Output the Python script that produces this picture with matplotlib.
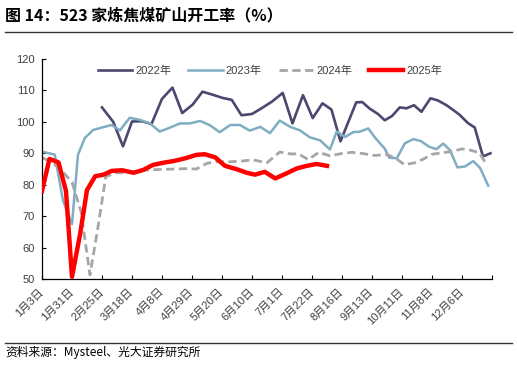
import matplotlib.pyplot as plt
from matplotlib.lines import Line2D

plt.rcParams['font.family'] = ['Liberation Sans', 'Noto Sans CJK SC']

# x positions are category units (axis 0..60, one tick label every 4 units)
tick_labels = ['1月3日', '1月31日', '2月25日', '3月18日', '4月8日', '4月29日', '5月20日',
               '6月10日', '7月1日', '7月22日', '8月16日', '9月13日', '10月11日', '11月8日', '12月6日']

x22 = [8.0, 9.5, 10.8, 12.0, 13.3, 14.6, 16.0, 17.4, 18.7, 20.1, 21.4, 22.8, 24.1, 25.3, 26.6,
       28.0, 29.2, 30.7, 32.1, 33.4, 34.8, 36.1, 37.4, 38.6, 39.8, 41.9, 42.7, 43.7, 44.8, 45.7,
       46.7, 47.7, 48.6, 49.6, 50.6, 51.8, 52.8, 54.0, 55.1, 55.7, 56.8, 57.7, 58.8, 59.8]
v22 = [104.6, 100.0, 92.2, 100.1, 100.2, 99.3, 107.3, 110.9, 102.8, 105.5, 109.6, 108.6, 107.6,
       107.0, 102.1, 102.5, 104.2, 106.5, 109.2, 99.5, 108.5, 101.2, 105.9, 103.9, 93.8, 106.2,
       106.3, 104.2, 102.5, 100.5, 101.9, 104.6, 104.3, 105.3, 103.2, 107.5, 106.8, 105.2, 103.3,
       102.2, 99.6, 98.2, 89.0, 90.0]

x23 = [0.0, 1.7, 2.8, 4.0, 4.8, 5.7, 6.8, 8.0, 9.3, 10.4, 11.7, 13.1, 14.4, 15.7, 17.1, 18.4,
       19.7, 21.1, 22.4, 23.7, 25.1, 26.4, 27.7, 29.1, 30.4, 31.7, 33.1, 34.4, 35.7, 37.1, 38.4,
       39.3, 40.4, 41.5, 42.4, 43.5, 44.5, 45.7, 46.3, 47.3, 48.4, 49.5, 50.5, 51.6, 52.6, 53.5,
       54.4, 55.4, 56.4, 57.5, 58.4, 59.5]
v23 = [90.5, 89.6, 75.0, 67.5, 89.5, 94.8, 97.4, 98.2, 99.0, 97.3, 101.3, 100.6, 99.5, 96.9,
       98.2, 99.5, 99.5, 100.3, 98.9, 96.7, 99.0, 99.0, 97.2, 98.4, 96.4, 100.4, 98.4, 97.3, 95.1,
       94.1, 91.2, 96.9, 95.2, 96.7, 96.9, 97.9, 94.7, 91.5, 88.6, 88.4, 93.2, 94.5, 93.9, 92.1,
       91.3, 93.1, 91.0, 85.5, 85.8, 87.5, 85.4, 79.7]

x24 = [0.1, 1.3, 2.5, 4.0, 5.2, 6.4, 7.4, 8.5, 9.7, 11.1, 12.4, 13.7, 15.1, 16.4, 17.7, 19.1,
       20.6, 22.0, 23.2, 25.1, 26.5, 28.1, 30.0, 31.7, 33.1, 34.2, 35.5, 36.9, 38.4, 39.9, 41.3,
       42.8, 44.4, 46.0, 47.3, 48.3, 49.6, 50.9, 52.0, 53.5, 54.7, 56.0, 57.1, 58.3, 59.2]
v24 = [88.5, 87.2, 84.8, 80.8, 71.5, 51.3, 65.5, 82.5, 83.8, 83.8, 84.2, 84.6, 84.8, 84.9, 85.0,
       85.1, 85.0, 86.8, 87.3, 87.3, 87.5, 87.9, 87.0, 90.4, 89.8, 89.8, 88.0, 90.3, 89.2, 89.9,
       90.3, 89.9, 89.3, 89.6, 88.2, 86.4, 86.9, 88.2, 89.7, 90.2, 90.6, 91.4, 91.0, 90.2, 86.7]

x25 = [0.0, 1.0, 2.2, 3.2, 4.0, 5.1, 6.0, 7.1, 8.2, 9.3, 10.7, 12.2, 13.5, 14.8, 16.2, 17.5,
       19.1, 20.6, 21.7, 23.1, 24.4, 26.0, 27.3, 28.4, 29.7, 31.1, 32.6, 34.0, 35.3, 36.6, 38.0]
v25 = [78.0, 88.2, 87.1, 78.0, 50.7, 64.5, 78.3, 82.7, 83.2, 84.4, 84.6, 83.8, 84.7, 86.3, 87.0,
       87.5, 88.4, 89.5, 89.7, 88.7, 86.0, 84.9, 83.8, 83.2, 84.1, 82.0, 83.6, 85.2, 86.0, 86.6,
       86.0]

fig = plt.figure(figsize=(5.17, 3.65), dpi=100)
ax = fig.add_axes([0.0812, 0.2356, 0.8704, 0.6028])

ax.plot(x22, v22, color='#4B4870', linewidth=1.9, label='2022年')
ax.plot(x23, v23, color='#7FADC2', linewidth=1.8, label='2023年')
ax.plot(x24, v24, color='#A6A6A6', linewidth=2.0, linestyle=(0, (3, 1.6)), label='2024年')
ax.plot(x25, v25, color='#FF0000', linewidth=3.2, label='2025年', zorder=5)

ax.set_xlim(0, 60)
ax.set_ylim(50, 120)
ax.set_yticks(range(50, 121, 10))
ax.set_xticks(range(0, 61, 4))
ax.set_xticklabels(tick_labels + [''], rotation=45, ha='right', va='center',
                   rotation_mode='anchor')
ax.tick_params(axis='both', direction='in', length=3, width=0.8, labelsize=8,
               labelcolor='#404040', color='black')
ax.tick_params(axis='x', pad=8)
ax.tick_params(axis='y', pad=5)
for s in ['top', 'right']:
    ax.spines[s].set_visible(False)
for s in ['left', 'bottom']:
    ax.spines[s].set_linewidth(0.9)

ax.legend(loc='center', bbox_to_anchor=(0.507, 0.945), ncol=4, frameon=False, fontsize=8,
          handlelength=3.1, columnspacing=1.5, handletextpad=0.3, labelcolor='#404040')

fig.text(0.01, 0.958, '图 14：523 家炼焦煤矿山开工率（%）', fontsize=11.5, fontweight='bold',
         family=['Noto Sans CJK SC'], va='center', ha='left')
fig.add_artist(Line2D([0.01, 0.99], [0.913, 0.913], color='#333333', linewidth=1.0))
fig.add_artist(Line2D([0.01, 0.99], [0.061, 0.061], color='#333333', linewidth=1.0))
fig.text(0.01, 0.035, '资料来源：Mysteel、光大证券研究所', fontsize=8.5,
         family=['Noto Sans CJK SC'], va='center', ha='left')

fig.savefig('out.png', dpi=100)
